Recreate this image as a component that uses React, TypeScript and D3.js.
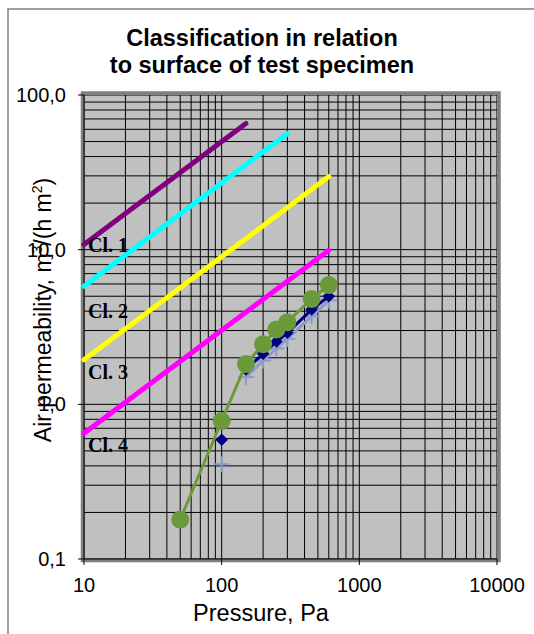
import React from "react";
import * as d3 from "d3";

const titleLines = ["Classification in relation", "to surface of test specimen"];
const xTickValues = [10, 100, 1000, 10000];
const xTickLabels = ["10", "100", "1000", "10000"];
const yTickValues = [100, 10, 1, 0.1];
const yTickLabels = ["100,0", "10,0", "1,0", "0,1"];

const classNames = ["Cl. 1", "Cl. 2", "Cl. 3", "Cl. 4"];
const classColors = ["#800080", "#00ffff", "#ffff00", "#ff00ff"];
const classStartP = [10, 10, 10, 10];
const classEndP = [150, 300, 600, 600];
const classStartQ = [10.8, 5.8, 1.94, 0.65];
const classEndQ = [65.5, 56.2, 29.7, 9.9];
const classLabelQ = [9.6, 3.6, 1.45, 0.49];

const pressures = [50, 100, 150, 200, 250, 300, 450, 600];
const greenValues = [0.18, 0.78, 1.82, 2.45, 3.05, 3.4, 4.8, 5.9];
const blueValues = [null, 0.59, 1.68, 2.12, 2.55, 2.9, 4.1, 5.0];
const starValues = [null, 0.41, 1.5, 1.92, 2.3, 2.65, 3.7, 4.7];

const W = 534, H = 634;
const left = 84, right = 497, top = 95, bottom = 559;

export default function App() {
  const x = d3.scaleLog().domain([10, 10000]).range([left, right]);
  const y = d3.scaleLog().domain([0.1, 100]).range([bottom, top]);

  const minor: number[] = [];
  for (let e = 1; e <= 3; e++) for (let m = 1; m <= 9; m++) minor.push(m * Math.pow(10, e));
  minor.push(10000);
  const minorY: number[] = [];
  for (let e = -1; e <= 1; e++) for (let m = 1; m <= 9; m++) minorY.push(m * Math.pow(10, e));
  minorY.push(100);

  const line = d3
    .line<[number, number | null]>()
    .defined((d) => d[1] != null)
    .x((d) => x(d[0]))
    .y((d) => y(d[1] as number));

  const series = (vals: (number | null)[], fromIdx: number) =>
    pressures.map((p, i) => [p, i >= fromIdx ? vals[i] : null] as [number, number | null]);

  const font = "'Liberation Sans', Arial, sans-serif";

  return (
    <svg width={W} height={H} style={{ position: "absolute", left: 0, top: 0, background: "#fff" }} fontFamily={font}>
      <rect x={8} y={9} width={600} height={700} fill="#fff" stroke="#808080" strokeWidth={1.5} />
      {titleLines.map((t, i) => (
        <text key={i} x={262} y={46 + i * 27} textAnchor="middle" fontWeight="bold" fontSize={23.5}>
          {t}
        </text>
      ))}
      <rect x={left} y={top} width={right - left} height={bottom - top} fill="#c0c0c0" />
      <g stroke="#000" strokeWidth={1}>
        {minor.map((v, i) => (
          <line key={"gx" + i} x1={x(v)} x2={x(v)} y1={top} y2={bottom} />
        ))}
        {minorY.map((v, i) => (
          <line key={"gy" + i} x1={left} x2={right} y1={y(v)} y2={y(v)} />
        ))}
      </g>
      <rect x={left - 1.5} y={top - 2} width={right - left + 3.5} height={bottom - top + 3.5} fill="none" stroke="#808080" strokeWidth={3.5} />
      <g stroke="#000" strokeWidth={1}>
        <line x1={left} x2={left} y1={top} y2={bottom} />
        <line x1={left} x2={right} y1={bottom} y2={bottom} />
        {xTickValues.map((v, i) => (
          <line key={"tx" + i} x1={x(v)} x2={x(v)} y1={bottom} y2={bottom + 6} />
        ))}
        {yTickValues.map((v, i) => (
          <line key={"ty" + i} x1={left - 6} x2={left} y1={y(v)} y2={y(v)} />
        ))}
      </g>
      {xTickLabels.map((t, i) => (
        <text key={"xl" + i} x={x(xTickValues[i])} y={592} textAnchor="middle" fontSize={20}>
          {t}
        </text>
      ))}
      {yTickLabels.map((t, i) => (
        <text key={"yl" + i} x={66} y={y(yTickValues[i]) + 7} textAnchor="end" fontSize={20}>
          {t}
        </text>
      ))}
      <text x={261} y={621} textAnchor="middle" fontSize={23.5}>
        Pressure, Pa
      </text>
      <text transform="translate(51,310) rotate(-90)" textAnchor="middle" fontSize={23}>
        Air permeability, m<tspan dy={-9} fontSize={14}>3</tspan>
        <tspan dy={9}>/(h m</tspan>
        <tspan dy={-9} fontSize={14}>2</tspan>
        <tspan dy={9}>)</tspan>
      </text>

      {classNames.map((n, i) => (
        <line
          key={"cl" + i}
          x1={x(classStartP[i])}
          y1={y(classStartQ[i])}
          x2={x(classEndP[i])}
          y2={y(classEndQ[i])}
          stroke={classColors[i]}
          strokeWidth={5}
          strokeLinecap="round"
        />
      ))}
      {classNames.map((n, i) => (
        <text
          key={"cn" + i}
          x={88}
          y={y(classLabelQ[i])}
          fontFamily="'Liberation Serif', 'Times New Roman', serif"
          fontWeight="bold"
          fontSize={20}
        >
          {n}
        </text>
      ))}

      <path d={line(series(starValues, 2)) || ""} fill="none" stroke="#8c9bcc" strokeWidth={3} />
      {pressures.map((p, i) =>
        starValues[i] == null ? null : (
          <g key={"st" + i} stroke="#8c9bcc" strokeWidth={2}>
            <line x1={x(p) - 8} x2={x(p) + 8} y1={y(starValues[i] as number)} y2={y(starValues[i] as number)} />
            <line x1={x(p)} x2={x(p)} y1={y(starValues[i] as number) - 8} y2={y(starValues[i] as number) + 8} />
          </g>
        )
      )}
      <path d={line(series(blueValues, 2)) || ""} fill="none" stroke="#000080" strokeWidth={3} />
      {pressures.map((p, i) =>
        blueValues[i] == null ? null : (
          <path
            key={"bd" + i}
            d={d3.symbol(d3.symbolDiamond2, 100)() || ""}
            transform={`translate(${x(p)},${y(blueValues[i] as number)})`}
            fill="#000080"
          />
        )
      )}
      <path d={line(series(greenValues, 0)) || ""} fill="none" stroke="#6a9a3a" strokeWidth={3} />
      {pressures.map((p, i) => (
        <circle key={"gc" + i} cx={x(p)} cy={y(greenValues[i])} r={9} fill="#6a9a3a" />
      ))}
    </svg>
  );
}
